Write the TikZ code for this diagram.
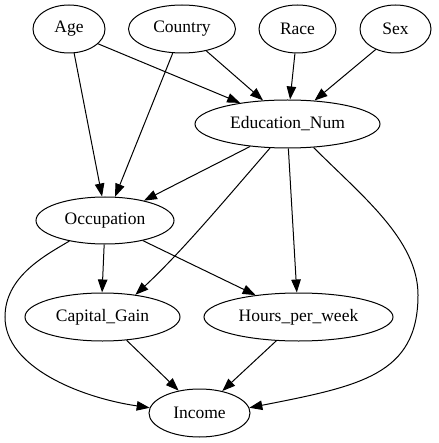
\documentclass[tikz,border=0pt]{standalone}
\usepackage{fontspec}
\setmainfont{Liberation Serif}
\usetikzlibrary{arrows.meta,shapes.geometric}
\begin{document}
\begin{tikzpicture}[x=1pt,y=-1pt,
  var/.style={draw, ellipse, line width=1pt, inner sep=0pt, minimum height=48pt,
    font=\fontsize{17.5}{21}\selectfont},
  edge/.style={line width=1pt, -{Triangle[length=13pt,width=9.5pt]}}]
\useasboundingbox (0,0) rectangle (438,443);
\node[var, minimum width=72pt]  (age)     at (69,29)     {Age};
\node[var, minimum width=107pt] (country) at (182,29)    {Country};
\node[var, minimum width=77pt]  (race)    at (297.5,29)  {Race};
\node[var, minimum width=71pt]  (sex)     at (395.5,29)  {Sex};
\node[var, minimum width=185pt] (edu)     at (287.5,124) {Education\_Num};
\node[var, minimum width=138pt, minimum height=47pt] (occ) at (105,220.5) {Occupation};
\node[var, minimum width=155pt] (cap)     at (102.5,317) {Capital\_Gain};
\node[var, minimum width=189pt] (hours)   at (298.5,317) {Hours\_per\_week};
\node[var, minimum width=101pt] (income)  at (199.5,413) {Income};

\draw[edge] (age.-27) -- (edu.156);
\draw[edge] (country.-42) -- (edu.136);
\draw[edge] (race.-96) -- (edu.84);
\draw[edge] (sex.-134) -- (edu.41);
\draw[edge] (age.-78) -- (occ.97);
\draw[edge] (country.-111) -- (occ.67);
\draw[edge] (edu.-149) -- (occ.27);
\draw[edge] (edu.-126) .. controls (227.7,196.7) and (182.5,251.1) .. (cap.34);
\draw[edge] (edu.-88) -- (hours.94);
\draw[edge] (edu.-42) .. controls (362.5,196.5) and (418,240) .. (418,295)
  .. controls (418,375) and (360,386) .. (income.6);
\draw[edge] (occ.-150) .. controls (44,256) and (5,277) .. (5,317)
  .. controls (5,367) and (80,397.5) .. (income.174);
\draw[edge] (occ.-92) -- (cap.91);
\draw[edge] (occ.-28) -- (hours.153);
\draw[edge] (cap.-44) -- (income.133);
\draw[edge] (hours.-133) -- (income.44);
\end{tikzpicture}
\end{document}
